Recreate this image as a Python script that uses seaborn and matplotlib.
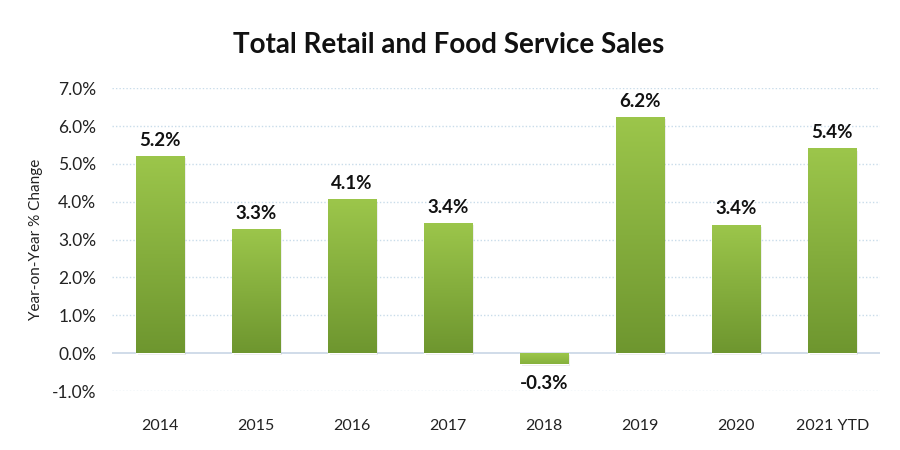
import numpy as np
import pandas as pd
import matplotlib
matplotlib.use("Agg")
import matplotlib.pyplot as plt
import seaborn as sns
from matplotlib.colors import LinearSegmentedColormap

categories = ["2014", "2015", "2016", "2017", "2018", "2019", "2020", "2021 YTD"]
values = [5.21, 3.28, 4.06, 3.44, -0.29, 6.24, 3.39, 5.41]
yticks = [-1, 0, 1, 2, 3, 4, 5, 6, 7]

sns.set_style("white")
plt.rcParams['font.family'] = ['Lato', 'DejaVu Sans']

df = pd.DataFrame({"year": categories, "pct": values})

fig = plt.figure(figsize=(9, 4.5), dpi=100)
ax = fig.add_axes([0.124, 0.131, 0.854, 0.673])
sns.barplot(data=df, x="year", y="pct", color="#8cb840", width=0.5, ax=ax, zorder=3)

ax.set_ylim(-1, 7)
ax.set_xlim(-0.5, len(categories) - 0.5)
ax.set_yticks(yticks)
ax.set_yticklabels([f"{t:.1f}%" for t in yticks], fontsize=12.5, color="#222222")
ax.tick_params(axis="x", labelsize=11.5, colors="#222222", length=0, pad=20)
ax.tick_params(axis="y", length=0, pad=11)
for s in ax.spines.values():
    s.set_visible(False)
for t in yticks:
    if t == 0:
        ax.axhline(0, color="#c8d6e5", lw=1.2, zorder=2)
    else:
        ax.axhline(t, color="#c9dcea", lw=1.0, ls=(0, (1, 1.5)), zorder=1)

cmap = LinearSegmentedColormap.from_list("g", ["#6e962f", "#9cc64b"])
cmap_neg = LinearSegmentedColormap.from_list("g2", ["#86b13c", "#9cc64b"])
grad = np.linspace(0, 1, 256).reshape(-1, 1)
for p, v in zip(ax.patches, values):
    x0, y0 = p.get_x(), p.get_y()
    w, h = p.get_width(), p.get_height()
    ylo, yhi = min(y0, y0 + h), max(y0, y0 + h)
    ax.add_patch(plt.Rectangle((x0 + 0.02, ylo - 0.06), w, yhi - ylo, color="#000000",
                               alpha=0.08, zorder=2.5, lw=0))
    im = ax.imshow(grad, cmap=cmap if v >= 0 else cmap_neg, origin="lower", aspect="auto",
                   extent=(x0, x0 + w, ylo, yhi), zorder=3.5)
    im.set_clip_path(p)
    cx = x0 + w / 2
    if v >= 0:
        ax.text(cx, v + 0.42, f"{v:.1f}%", ha="center", va="center", fontsize=13.5,
                fontweight="bold", color="#111111")
    else:
        ax.text(cx, v - 0.5, f"{v:.1f}%", ha="center", va="center", fontsize=13.5,
                fontweight="bold", color="#111111")

ax.set_xlabel("")
ax.set_ylabel("Year-on-Year % Change", fontsize=11, color="#222222", labelpad=6)
fig.text(0.499, 0.9, "Total Retail and Food Service Sales", ha="center", va="center",
         fontsize=20, fontweight="bold", color="#111111")

fig.savefig("out.png", dpi=100)
